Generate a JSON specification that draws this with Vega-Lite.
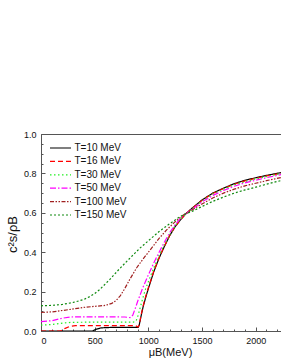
{
"$schema": "https://vega.github.io/schema/vega-lite/v6.json",
"autosize": "none",
"width": 241,
"height": 197,
"padding": {"left": 41, "top": 134, "right": 0, "bottom": 32},
"background": "white",
"config": {
  "font": "Liberation Sans",
  "view": {"stroke": "#555", "strokeWidth": 1},
  "axis": {"domainColor": "#555", "tickColor": "#555", "labelColor": "#111", "titleColor": "#111", "grid": false, "labelFont": "Liberation Sans", "titleFont": "Liberation Sans", "titleFontWeight": "normal"},
  "legend": {"symbolType": "M-2.1,0H2.1", "symbolSize": 100, "symbolStrokeWidth": 1.2, "labelFontSize": 10, "labelFont": "Liberation Sans", "labelColor": "#111", "rowPadding": 2.4, "labelOffset": 8, "padding": 0}
},
"data": {"values": [
{"T":"T=10 MeV","mu":0,"c":0},{"T":"T=10 MeV","mu":480,"c":0},{"T":"T=10 MeV","mu":510,"c":0.008},{"T":"T=10 MeV","mu":560,"c":0.016},{"T":"T=10 MeV","mu":650,"c":0.018},{"T":"T=10 MeV","mu":800,"c":0.018},{"T":"T=10 MeV","mu":905,"c":0.018},{"T":"T=10 MeV","mu":915,"c":0.03},{"T":"T=10 MeV","mu":930,"c":0.07},{"T":"T=10 MeV","mu":950,"c":0.12},{"T":"T=10 MeV","mu":975,"c":0.17},{"T":"T=10 MeV","mu":1000,"c":0.215},{"T":"T=10 MeV","mu":1050,"c":0.3},{"T":"T=10 MeV","mu":1100,"c":0.37},{"T":"T=10 MeV","mu":1150,"c":0.43},{"T":"T=10 MeV","mu":1200,"c":0.485},{"T":"T=10 MeV","mu":1250,"c":0.53},{"T":"T=10 MeV","mu":1300,"c":0.565},{"T":"T=10 MeV","mu":1340,"c":0.59},{"T":"T=10 MeV","mu":1400,"c":0.62},{"T":"T=10 MeV","mu":1500,"c":0.665},{"T":"T=10 MeV","mu":1600,"c":0.7},{"T":"T=10 MeV","mu":1700,"c":0.725},{"T":"T=10 MeV","mu":1800,"c":0.748},{"T":"T=10 MeV","mu":1900,"c":0.765},{"T":"T=10 MeV","mu":2000,"c":0.778},{"T":"T=10 MeV","mu":2100,"c":0.79},{"T":"T=10 MeV","mu":2245,"c":0.805},
{"T":"T=16 MeV","mu":0,"c":0},{"T":"T=16 MeV","mu":180,"c":0},{"T":"T=16 MeV","mu":220,"c":0.012},{"T":"T=16 MeV","mu":270,"c":0.024},{"T":"T=16 MeV","mu":320,"c":0.027},{"T":"T=16 MeV","mu":500,"c":0.027},{"T":"T=16 MeV","mu":700,"c":0.027},{"T":"T=16 MeV","mu":880,"c":0.027},{"T":"T=16 MeV","mu":905,"c":0.02},{"T":"T=16 MeV","mu":915,"c":0.03},{"T":"T=16 MeV","mu":930,"c":0.075},{"T":"T=16 MeV","mu":950,"c":0.125},{"T":"T=16 MeV","mu":975,"c":0.175},{"T":"T=16 MeV","mu":1000,"c":0.22},{"T":"T=16 MeV","mu":1050,"c":0.303},{"T":"T=16 MeV","mu":1100,"c":0.372},{"T":"T=16 MeV","mu":1150,"c":0.432},{"T":"T=16 MeV","mu":1200,"c":0.486},{"T":"T=16 MeV","mu":1250,"c":0.53},{"T":"T=16 MeV","mu":1300,"c":0.565},{"T":"T=16 MeV","mu":1340,"c":0.59},{"T":"T=16 MeV","mu":1400,"c":0.619},{"T":"T=16 MeV","mu":1500,"c":0.663},{"T":"T=16 MeV","mu":1600,"c":0.698},{"T":"T=16 MeV","mu":1700,"c":0.723},{"T":"T=16 MeV","mu":1800,"c":0.745},{"T":"T=16 MeV","mu":1900,"c":0.762},{"T":"T=16 MeV","mu":2000,"c":0.775},{"T":"T=16 MeV","mu":2100,"c":0.787},{"T":"T=16 MeV","mu":2245,"c":0.802},
{"T":"T=30 MeV","mu":0,"c":0.03},{"T":"T=30 MeV","mu":100,"c":0.033},{"T":"T=30 MeV","mu":200,"c":0.04},{"T":"T=30 MeV","mu":280,"c":0.044},{"T":"T=30 MeV","mu":500,"c":0.045},{"T":"T=30 MeV","mu":700,"c":0.045},{"T":"T=30 MeV","mu":860,"c":0.045},{"T":"T=30 MeV","mu":885,"c":0.05},{"T":"T=30 MeV","mu":905,"c":0.08},{"T":"T=30 MeV","mu":925,"c":0.12},{"T":"T=30 MeV","mu":950,"c":0.17},{"T":"T=30 MeV","mu":975,"c":0.215},{"T":"T=30 MeV","mu":1000,"c":0.25},{"T":"T=30 MeV","mu":1050,"c":0.32},{"T":"T=30 MeV","mu":1100,"c":0.385},{"T":"T=30 MeV","mu":1150,"c":0.44},{"T":"T=30 MeV","mu":1200,"c":0.49},{"T":"T=30 MeV","mu":1250,"c":0.535},{"T":"T=30 MeV","mu":1300,"c":0.568},{"T":"T=30 MeV","mu":1340,"c":0.59},{"T":"T=30 MeV","mu":1400,"c":0.617},{"T":"T=30 MeV","mu":1500,"c":0.66},{"T":"T=30 MeV","mu":1600,"c":0.695},{"T":"T=30 MeV","mu":1700,"c":0.72},{"T":"T=30 MeV","mu":1800,"c":0.742},{"T":"T=30 MeV","mu":1900,"c":0.758},{"T":"T=30 MeV","mu":2000,"c":0.772},{"T":"T=30 MeV","mu":2100,"c":0.784},{"T":"T=30 MeV","mu":2245,"c":0.8},
{"T":"T=50 MeV","mu":0,"c":0.048},{"T":"T=50 MeV","mu":100,"c":0.052},{"T":"T=50 MeV","mu":200,"c":0.065},{"T":"T=50 MeV","mu":270,"c":0.071},{"T":"T=50 MeV","mu":400,"c":0.072},{"T":"T=50 MeV","mu":600,"c":0.072},{"T":"T=50 MeV","mu":780,"c":0.071},{"T":"T=50 MeV","mu":830,"c":0.068},{"T":"T=50 MeV","mu":855,"c":0.08},{"T":"T=50 MeV","mu":875,"c":0.11},{"T":"T=50 MeV","mu":900,"c":0.15},{"T":"T=50 MeV","mu":950,"c":0.222},{"T":"T=50 MeV","mu":1000,"c":0.285},{"T":"T=50 MeV","mu":1050,"c":0.345},{"T":"T=50 MeV","mu":1100,"c":0.4},{"T":"T=50 MeV","mu":1150,"c":0.452},{"T":"T=50 MeV","mu":1200,"c":0.5},{"T":"T=50 MeV","mu":1250,"c":0.54},{"T":"T=50 MeV","mu":1300,"c":0.572},{"T":"T=50 MeV","mu":1340,"c":0.592},{"T":"T=50 MeV","mu":1400,"c":0.615},{"T":"T=50 MeV","mu":1500,"c":0.655},{"T":"T=50 MeV","mu":1600,"c":0.688},{"T":"T=50 MeV","mu":1700,"c":0.713},{"T":"T=50 MeV","mu":1800,"c":0.735},{"T":"T=50 MeV","mu":1900,"c":0.752},{"T":"T=50 MeV","mu":2000,"c":0.765},{"T":"T=50 MeV","mu":2100,"c":0.778},{"T":"T=50 MeV","mu":2245,"c":0.795},
{"T":"T=100 MeV","mu":0,"c":0.094},{"T":"T=100 MeV","mu":100,"c":0.097},{"T":"T=100 MeV","mu":200,"c":0.104},{"T":"T=100 MeV","mu":300,"c":0.112},{"T":"T=100 MeV","mu":400,"c":0.12},{"T":"T=100 MeV","mu":500,"c":0.125},{"T":"T=100 MeV","mu":600,"c":0.13},{"T":"T=100 MeV","mu":660,"c":0.14},{"T":"T=100 MeV","mu":700,"c":0.155},{"T":"T=100 MeV","mu":740,"c":0.18},{"T":"T=100 MeV","mu":780,"c":0.215},{"T":"T=100 MeV","mu":830,"c":0.265},{"T":"T=100 MeV","mu":890,"c":0.32},{"T":"T=100 MeV","mu":950,"c":0.365},{"T":"T=100 MeV","mu":1015,"c":0.41},{"T":"T=100 MeV","mu":1100,"c":0.47},{"T":"T=100 MeV","mu":1170,"c":0.513},{"T":"T=100 MeV","mu":1250,"c":0.555},{"T":"T=100 MeV","mu":1340,"c":0.595},{"T":"T=100 MeV","mu":1400,"c":0.612},{"T":"T=100 MeV","mu":1500,"c":0.645},{"T":"T=100 MeV","mu":1600,"c":0.675},{"T":"T=100 MeV","mu":1700,"c":0.7},{"T":"T=100 MeV","mu":1800,"c":0.72},{"T":"T=100 MeV","mu":1900,"c":0.737},{"T":"T=100 MeV","mu":2000,"c":0.75},{"T":"T=100 MeV","mu":2100,"c":0.763},{"T":"T=100 MeV","mu":2245,"c":0.78},
{"T":"T=150 MeV","mu":0,"c":0.128},{"T":"T=150 MeV","mu":100,"c":0.13},{"T":"T=150 MeV","mu":200,"c":0.135},{"T":"T=150 MeV","mu":300,"c":0.145},{"T":"T=150 MeV","mu":400,"c":0.16},{"T":"T=150 MeV","mu":456,"c":0.175},{"T":"T=150 MeV","mu":500,"c":0.19},{"T":"T=150 MeV","mu":550,"c":0.212},{"T":"T=150 MeV","mu":642,"c":0.262},{"T":"T=150 MeV","mu":730,"c":0.315},{"T":"T=150 MeV","mu":829,"c":0.37},{"T":"T=150 MeV","mu":920,"c":0.42},{"T":"T=150 MeV","mu":1015,"c":0.465},{"T":"T=150 MeV","mu":1100,"c":0.505},{"T":"T=150 MeV","mu":1200,"c":0.545},{"T":"T=150 MeV","mu":1280,"c":0.575},{"T":"T=150 MeV","mu":1340,"c":0.594},{"T":"T=150 MeV","mu":1400,"c":0.605},{"T":"T=150 MeV","mu":1500,"c":0.632},{"T":"T=150 MeV","mu":1600,"c":0.658},{"T":"T=150 MeV","mu":1700,"c":0.68},{"T":"T=150 MeV","mu":1800,"c":0.7},{"T":"T=150 MeV","mu":1900,"c":0.716},{"T":"T=150 MeV","mu":2000,"c":0.73},{"T":"T=150 MeV","mu":2100,"c":0.745},{"T":"T=150 MeV","mu":2245,"c":0.765}
]},
"layer": [
  {
    "mark": {"type": "line", "strokeWidth": 1.2, "clip": true},
    "encoding": {
      "x": {"field": "mu", "type": "quantitative", "scale": {"domain": [0, 2245], "nice": false, "zero": false},
        "axis": {"orient": "bottom", "values": [0, 500, 1000, 1500, 2000], "format": "d", "tickSize": -4, "labelPadding": 9, "labelFontSize": 9, "title": "μB(MeV)", "titleFontSize": 11, "titleX": 129, "titleY": 15, "titleAlign": "center", "titleBaseline": "top"}},
      "y": {"field": "c", "type": "quantitative", "scale": {"domain": [0, 1], "nice": false},
        "axis": {"orient": "left", "values": [0, 0.2, 0.4, 0.6, 0.8, 1.0], "format": ".1f", "tickSize": -4, "labelPadding": 9, "labelFontSize": 9, "title": "c²s/ρB", "titleFontSize": 13, "titleX": -29, "titleY": 100, "titleAlign": "center", "titleBaseline": "middle", "titleAngle": -90}},
      "color": {"field": "T", "type": "nominal",
        "scale": {"domain": ["T=10 MeV", "T=16 MeV", "T=30 MeV", "T=50 MeV", "T=100 MeV", "T=150 MeV"], "range": ["#000000", "#ff0000", "#22ee22", "#ff00ff", "#a02020", "#108a10"]},
        "legend": {"orient": "none", "legendX": 13.5, "legendY": 8, "title": null}},
      "strokeDash": {"field": "T", "type": "nominal",
        "scale": {"domain": ["T=10 MeV", "T=16 MeV", "T=30 MeV", "T=50 MeV", "T=100 MeV", "T=150 MeV"], "range": [[1, 0], [5, 3], [1.5, 2.5], [6, 2, 1.5, 2], [4, 1.5, 1.5, 1.5, 1.5, 1.5], [2, 2]]},
        "legend": {"orient": "none", "legendX": 13.5, "legendY": 8, "title": null}}
    }
  },
  {
    "mark": {"type": "point", "opacity": 0, "clip": true},
    "encoding": {
      "x": {"field": "mu", "type": "quantitative",
        "axis": {"orient": "bottom", "values": [100, 200, 300, 400, 600, 700, 800, 900, 1100, 1200, 1300, 1400, 1600, 1700, 1800, 1900, 2100, 2200], "labels": false, "domain": false, "tickSize": -2, "title": null}},
      "y": {"field": "c", "type": "quantitative",
        "axis": {"orient": "left", "values": [0.05, 0.1, 0.15, 0.25, 0.3, 0.35, 0.45, 0.5, 0.55, 0.65, 0.7, 0.75, 0.85, 0.9, 0.95], "labels": false, "domain": false, "tickSize": -2, "title": null}}
    }
  }
],
"resolve": {"axis": {"x": "independent", "y": "independent"}}
}
